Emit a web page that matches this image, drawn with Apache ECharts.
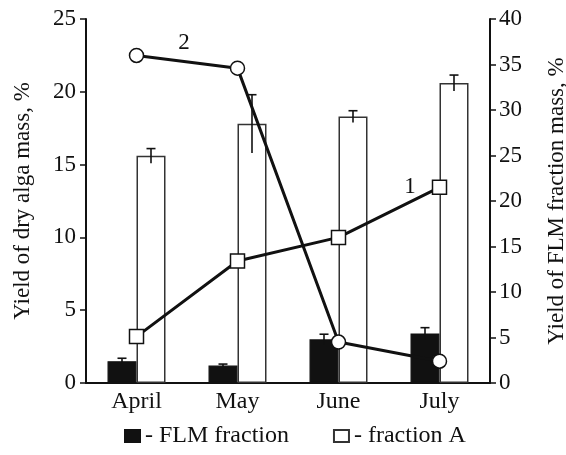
<!DOCTYPE html>
<html>
<head>
<meta charset="utf-8">
<script src="https://cdn.jsdelivr.net/npm/echarts@6/dist/echarts.min.js"></script>
<style>
  html, body { margin: 0; padding: 0; background: #fff; }
  #chart { width: 566px; height: 455px; }
</style>
</head>
<body>
<div id="chart"></div>
<script>
const months = ['April', 'May', 'June', 'July'];
const flmFraction = [1.5, 1.2, 3.0, 3.4];
const flmFractionErr = [0.2, 0.1, 0.35, 0.4];
const fractionA = [15.6, 17.8, 18.3, 20.6];
const fractionAErr = [0.5, 2.0, 0.4, 0.55];
const curve1 = [5.1, 13.4, 16.0, 21.5];
const curve2 = [36.0, 34.6, 4.5, 2.4];

const FONT = 'Liberation Serif';
const BAR_W = 29;

// error bars: vertical whisker with a cap on top, shifted onto its bar
const errorSeries = (values, errs, side) => ({
  type: 'custom',
  yAxisIndex: 0,
  z: 5,
  silent: true,
  data: values.map((v, i) => [i, v, errs[i]]),
  renderItem: (params, api) => {
    const top = api.coord([api.value(0), api.value(1) + api.value(2)]);
    const bot = api.coord([api.value(0), api.value(1) - api.value(2)]);
    const x = top[0] + side * BAR_W / 2;
    const style = { stroke: '#111', lineWidth: 1.6 };
    return {
      type: 'group',
      children: [
        { type: 'line', shape: { x1: x, y1: top[1], x2: x, y2: bot[1] }, style },
        { type: 'line', shape: { x1: x - 4.5, y1: top[1], x2: x + 4.5, y2: top[1] }, style }
      ]
    };
  }
});

const lineSeries = (name, data, symbol, labelIdx, labelText, labelOpts) => ({
  name: name,
  type: 'line',
  yAxisIndex: 1,
  z: 10,
  data: data.map((v, i) => i === labelIdx ? {
    value: v,
    label: Object.assign({
      show: true, formatter: labelText, color: '#111',
      fontFamily: FONT, fontSize: 23
    }, labelOpts)
  } : v),
  symbol: symbol,
  symbolSize: 14,
  lineStyle: { color: '#111', width: 3 },
  itemStyle: { color: '#fff', borderColor: '#111', borderWidth: 1.5 }
});

const initChart = () => {
  const chart = echarts.init(document.getElementById('chart'));
  const tickText = { color: '#111', fontFamily: FONT, fontSize: 23 };
  const nameText = { color: '#111', fontFamily: FONT, fontSize: 23 };

  chart.setOption({
    animation: false,
    grid: { left: 86, right: 76, top: 19, bottom: 72, outerBoundsMode: 'none', containLabel: false },
    legend: {
      data: ['FLM fraction', 'fraction A'],
      left: 119,
      bottom: 2,
      icon: 'rect',
      itemWidth: 15,
      itemHeight: 12,
      itemGap: 44,
      formatter: (name) => '- ' + name,
      textStyle: { color: '#111', fontFamily: FONT, fontSize: 24 }
    },
    xAxis: {
      type: 'category',
      data: months,
      axisLine: { lineStyle: { color: '#111', width: 2 } },
      axisTick: { show: false },
      axisLabel: Object.assign({ margin: 7 }, tickText, { fontSize: 24 })
    },
    yAxis: [
      {
        type: 'value',
        min: 0, max: 25, interval: 5,
        name: 'Yield of dry alga mass, %',
        nameLocation: 'middle',
        nameRotate: 90,
        nameGap: 52,
        nameTextStyle: nameText,
        axisLine: { show: true, lineStyle: { color: '#111', width: 2 } },
        axisTick: { show: true, length: 6, lineStyle: { color: '#111', width: 1.5 } },
        axisLabel: Object.assign({ margin: 10 }, tickText),
        splitLine: { show: false }
      },
      {
        type: 'value',
        position: 'right',
        min: 0, max: 40, interval: 5,
        name: 'Yield of FLM fraction mass, %',
        nameLocation: 'middle',
        nameRotate: 90,
        nameGap: 55,
        nameTextStyle: nameText,
        axisLine: { show: true, lineStyle: { color: '#111', width: 2 } },
        axisTick: { show: true, length: 6, lineStyle: { color: '#111', width: 1.5 } },
        axisLabel: Object.assign({ margin: 9 }, tickText),
        splitLine: { show: false }
      }
    ],
    series: [
      {
        name: 'FLM fraction',
        type: 'bar',
        yAxisIndex: 0,
        data: flmFraction,
        barWidth: BAR_W,
        barGap: '0%',
        itemStyle: { color: '#111', borderColor: '#111', borderWidth: 1.2 }
      },
      {
        name: 'fraction A',
        type: 'bar',
        yAxisIndex: 0,
        data: fractionA,
        barWidth: BAR_W,
        barGap: '0%',
        itemStyle: { color: '#fff', borderColor: '#333', borderWidth: 1.5 }
      },
      errorSeries(flmFraction, flmFractionErr, -1),
      errorSeries(fractionA, fractionAErr, 1),
      lineSeries('1', curve1, 'rect', 3, '1', { position: 'left', distance: 16 }),
      lineSeries('2', curve2, 'circle', 0, '2', { position: 'right', distance: 0, offset: [34, -12] })
    ]
  });
};

window.addEventListener('load', () => {
  initChart();
});
</script>
</body>
</html>
